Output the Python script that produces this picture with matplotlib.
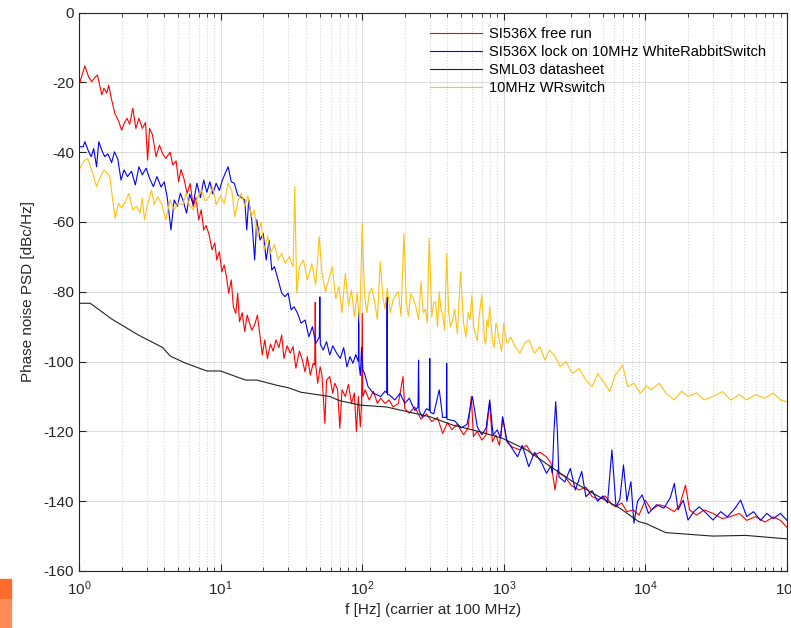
import matplotlib
matplotlib.use("Agg")
import matplotlib.pyplot as plt
from matplotlib.patches import Rectangle
from matplotlib.ticker import LogLocator, NullFormatter

plt.rcParams['font.family'] = ['Liberation Sans', 'DejaVu Sans']
plt.rcParams['mathtext.fontset'] = 'custom'
plt.rcParams['mathtext.rm'] = 'Liberation Sans'
plt.rcParams['mathtext.it'] = 'Liberation Sans'

# ---------------- data ----------------
red_f = [1.00, 1.10, 1.17, 1.23, 1.30, 1.35, 1.42, 1.45, 1.50, 1.57, 1.62, 1.70, 1.79, 1.90, 2.00, 2.10,
         2.18, 2.28, 2.40, 2.52, 2.65, 2.80, 2.95, 3.05, 3.15, 3.30, 3.50, 3.70, 3.90, 4.10, 4.40, 4.60,
         4.85, 5.05, 5.25, 5.50, 5.80, 6.10, 6.40, 6.70, 7.00, 7.30, 7.60, 7.90, 8.30, 8.70, 9.10, 9.40,
         9.80, 10.2, 10.6, 11.0, 11.4, 11.9, 12.3, 12.8, 13.2, 13.6, 14.2, 14.8, 15.4, 16.0, 16.6, 17.4,
         18.2, 19.0, 19.7, 20.5, 21.4, 22.5, 23.5, 24.6, 25.8, 27.0, 28.0, 29.5, 31.0, 32.5, 34.0, 36.0,
         37.5, 39.5, 41.0, 43.0, 45.0, 46.2, 46.6, 47.0, 48.5, 50.5, 52.0, 54.5, 56.0, 59.0, 62.0, 64.0,
         67.0, 69.5, 72.0, 76.0, 80.0, 84.0, 88.0, 91.0, 94.0, 97.0, 99.0, 100.0, 101.0, 105.0, 112.0,
         120.0, 128.0, 135.0, 145.0, 155.0, 165.0, 180.0, 194.0, 200.0, 215.0, 235.0, 260.0, 285.0, 310.0,
         340.0, 370.0, 400.0, 430.0, 470.0, 520.0, 560.0, 590.0, 610.0, 650.0, 700.0, 750.0, 795.0, 830.0,
         880.0, 930.0, 985.0, 1050, 1150, 1300, 1450, 1600, 1800, 2000, 2150, 2300, 2400, 2470, 2700,
         3000, 3400, 3800, 4200, 4700, 5200, 5800, 6200, 6800, 7400, 8200, 9000, 10000, 11000, 12500,
         14000, 16000, 17500, 19200, 20500, 23000, 26000, 30000, 35000, 40000, 46000, 52000, 60000,
         70000, 80000, 90000, 100000]
red_db = [-20.8, -15.3, -18.5, -19.8, -18.5, -17.9, -22.0, -23.6, -21.7, -23.1, -20.8, -25.0, -28.9, -31.0,
          -33.7, -31.5, -30.3, -32.0, -27.4, -33.2, -30.3, -33.2, -31.5, -42.3, -33.2, -35.0, -41.3, -38.0,
          -40.5, -41.8, -40.0, -43.7, -42.5, -48.5, -45.0, -47.5, -51.8, -49.0, -55.6, -53.0, -59.4, -56.5,
          -62.3, -61.0, -63.7, -68.0, -66.0, -70.9, -68.5, -74.3, -72.3, -75.7, -80.4, -76.6, -84.3, -86.2,
          -80.4, -88.6, -86.0, -91.4, -86.7, -89.0, -91.0, -89.5, -86.7, -92.9, -98.1, -93.8, -99.1, -95.0,
          -97.0, -93.8, -96.0, -92.4, -99.1, -95.5, -97.6, -95.7, -101.9, -97.0, -99.1, -103.0, -98.6,
          -103.9, -100.5, -101.0, -83.0, -101.0, -106.2, -101.5, -104.0, -117.7, -105.3, -104.3, -109.1,
          -106.2, -108.0, -119.1, -108.1, -110.0, -106.5, -112.0, -109.0, -120.1, -110.0, -118.7, -112.0,
          -86.2, -110.0, -108.1, -111.0, -108.5, -112.0, -110.5, -112.0, -111.0, -113.0, -112.0, -104.3,
          -113.5, -114.8, -113.0, -116.5, -115.0, -117.2, -116.0, -120.6, -117.5, -119.5, -118.0, -121.0,
          -119.0, -110.0, -121.5, -120.0, -122.5, -121.0, -111.5, -123.0, -121.0, -124.0, -116.3, -123.0,
          -124.5, -125.3, -124.0, -127.0, -126.0, -127.3, -129.0, -136.8, -131.0, -132.0, -133.0, -135.5,
          -136.8, -136.0, -138.7, -139.5, -138.5, -141.0, -141.6, -140.5, -143.0, -142.5, -144.0, -139.7,
          -142.5, -141.0, -141.6, -143.0, -141.0, -135.4, -142.5, -144.0, -142.5, -143.5, -145.0, -144.4,
          -143.5, -145.5, -144.4, -146.0, -144.5, -145.5, -147.5]

blue_f = [1.00, 1.07, 1.10, 1.16, 1.22, 1.27, 1.33, 1.38, 1.45, 1.52, 1.60, 1.70, 1.78, 1.88, 1.98, 2.08,
          2.20, 2.35, 2.50, 2.65, 2.80, 2.98, 3.15, 3.35, 3.55, 3.80, 4.00, 4.20, 4.46, 4.70, 4.95, 5.20,
          5.45, 5.75, 6.05, 6.40, 6.80, 7.20, 7.60, 8.00, 8.40, 8.80, 9.30, 9.80, 10.3, 10.8, 11.3, 11.9,
          12.5, 13.2, 14.0, 14.8, 15.3, 15.8, 16.6, 17.4, 18.0, 19.0, 20.0, 21.0, 22.0, 23.0, 24.0, 25.5,
          27.0, 28.5, 30.0, 31.5, 33.0, 35.0, 37.0, 39.5, 42.0, 44.5, 47.0, 49.8, 50.2, 50.6, 53.0, 56.0,
          59.0, 62.0, 66.0, 70.0, 74.0, 78.0, 82.0, 86.0, 90.0, 94.0, 94.5, 95.0, 97.0, 99.0, 101.0, 104.0,
          110.0, 120.0, 135.0, 145.0, 149.0, 150.0, 151.0, 155.0, 170.0, 185.0, 200.0, 215.0, 235.0, 248.0,
          250.0, 252.0, 265.0, 285.0, 298.0, 300.0, 302.0, 320.0, 350.0, 370.0, 393.0, 395.0, 397.0, 415.0,
          450.0, 500.0, 550.0, 600.0, 650.0, 700.0, 750.0, 795.0, 840.0, 900.0, 950.0, 980.0, 1050, 1150,
          1250, 1350, 1500, 1650, 1850, 2000, 2150, 2200, 2260, 2325, 2390, 2450, 2700, 2950, 3200, 3550,
          3800, 4200, 4600, 5000, 5400, 5800, 6200, 6600, 7000, 7400, 7900, 8300, 8800, 9500, 10500, 12000,
          13500, 15000, 16000, 17000, 18500, 20000, 22000, 24000, 27000, 30000, 34000, 38000, 43000, 47000,
          52000, 58000, 65000, 72000, 80000, 90000, 100000]
blue_db = [-38.4, -38.5, -37.0, -39.5, -41.3, -39.0, -44.2, -37.0, -39.5, -41.3, -40.5, -43.0, -39.9, -42.0,
           -48.0, -45.1, -47.0, -45.5, -49.4, -44.2, -46.5, -44.6, -47.5, -49.9, -47.0, -50.0, -48.5, -53.0,
           -62.3, -53.7, -55.5, -51.8, -54.0, -57.5, -52.0, -55.0, -48.9, -53.0, -48.0, -51.5, -48.5, -52.0,
           -48.9, -51.0, -48.0, -46.0, -44.2, -48.5, -48.9, -52.3, -53.0, -53.7, -62.3, -53.7, -59.4, -70.9,
           -59.4, -65.2, -63.3, -70.9, -65.2, -73.8, -72.8, -76.6, -80.4, -81.4, -80.4, -85.2, -84.3, -86.2,
           -89.0, -88.1, -92.9, -90.0, -94.8, -93.0, -81.5, -95.0, -96.7, -94.3, -98.1, -95.5, -97.6, -99.1,
           -96.0, -101.5, -98.6, -100.5, -98.0, -100.0, -86.0, -101.0, -104.0, -96.0, -102.4, -103.4,
           -107.2, -109.1, -110.0, -108.5, -109.0, -81.5, -109.5, -109.5, -111.0, -109.1, -112.0, -110.5,
           -114.0, -113.0, -99.6, -114.0, -115.8, -113.5, -114.0, -99.1, -114.5, -115.0, -108.1, -116.0,
           -116.0, -100.5, -116.5, -116.7, -117.0, -119.0, -118.0, -110.0, -118.7, -121.0, -119.0, -111.0,
           -121.0, -119.6, -122.0, -115.8, -122.5, -125.0, -127.3, -124.0, -130.1, -126.0, -129.0, -132.0,
           -130.0, -132.0, -120.0, -111.5, -120.0, -133.0, -134.5, -130.6, -136.8, -131.5, -138.7, -137.0,
           -140.0, -138.5, -140.5, -125.3, -141.6, -139.5, -129.6, -140.0, -134.4, -146.3, -140.0, -138.2,
           -143.5, -141.0, -142.0, -139.0, -134.9, -142.5, -139.7, -145.4, -143.0, -141.6, -143.5, -145.4,
           -143.0, -144.5, -142.0, -139.7, -144.4, -143.0, -145.5, -143.5, -145.0, -143.5, -145.5]

sml_f = [1, 1.2, 1.7, 2.6, 3.9, 4.4, 5.6, 8, 10, 15, 18, 25, 30, 37, 59, 69, 98, 148, 300, 437, 677, 980,
         1450, 2140, 3070, 4700, 6600, 9000, 10100, 13900, 30000, 51000, 100000]
sml_db = [-83.3, -83.3, -87.8, -92.3, -96.0, -98.4, -100.4, -102.7, -102.7, -105.3, -105.3, -106.8, -107.5,
          -108.8, -110.0, -111.2, -112.5, -113.0, -115.8, -118.2, -120.1, -122.0, -125.3, -130.1, -134.4,
          -138.7, -142.0, -145.9, -146.4, -149.0, -150.0, -149.8, -150.8]

wr_f = [1.00, 1.05, 1.10, 1.15, 1.20, 1.26, 1.33, 1.40, 1.50, 1.55, 1.65, 1.73, 1.80, 1.90, 2.00, 2.12,
        2.25, 2.40, 2.55, 2.70, 2.80, 2.90, 3.05, 3.25, 3.40, 3.60, 3.85, 4.10, 4.40, 4.70, 5.00, 5.40,
        5.70, 6.00, 6.40, 6.80, 7.30, 7.80, 8.30, 8.80, 9.30, 10.0, 10.6, 11.3, 12.0, 12.6, 13.3, 14.0,
        14.8, 15.6, 16.5, 17.3, 18.3, 19.3, 20.3, 21.5, 22.5, 24.0, 25.5, 27.0, 28.5, 30.5, 32.5, 33.4,
        34.5, 36.0, 38.5, 41.0, 44.0, 47.0, 49.7, 52.0, 55.0, 58.0, 61.5, 65.0, 68.5, 72.0, 76.0, 80.0,
        84.0, 88.0, 92.0, 96.0,
        100, 104, 108, 112, 117, 122, 128, 134, 140, 145, 150, 158, 165, 172, 180, 188, 197, 205, 212, 220,
        230, 240, 250, 260, 270, 280, 288, 297, 310, 320, 330, 340, 350, 360, 370, 382, 395, 408, 420, 435,
        450, 470, 495, 520, 540, 560, 578, 595, 612, 630, 650, 670, 700, 730, 745, 760, 778, 795, 830, 855,
        880, 905, 930, 965, 1000,
        1050, 1120, 1200, 1300, 1400, 1500, 1650, 1800, 1950, 2100, 2300, 2500, 2750, 3050, 3400, 3800,
        4200, 4600, 5100, 5600, 6100, 6900, 7500, 8300, 9200, 10200, 11000, 12500, 14000, 16000, 18000,
        20000, 23000, 26000, 30000, 35000, 40000, 46000, 52000, 60000, 70000, 80000, 90000, 100000]
wr_db = [-45.1, -43.5, -42.3, -41.8, -44.0, -46.5, -49.9, -47.5, -45.1, -45.6, -47.0, -53.7, -59.0, -54.7,
         -56.0, -54.2, -51.8, -56.6, -55.5, -57.5, -53.2, -59.4, -55.0, -50.9, -55.0, -52.8, -55.0, -59.4,
         -53.7, -56.5, -54.5, -55.2, -51.8, -55.0, -56.6, -53.5, -50.9, -54.0, -52.8, -50.0, -55.0, -52.5,
         -54.7, -48.9, -51.0, -58.5, -53.7, -51.8, -55.6, -52.5, -58.5, -56.6, -64.2, -60.0, -68.0, -64.0,
         -69.0, -66.5, -70.9, -69.0, -71.8, -70.0, -72.8, -49.9, -80.4, -72.8, -70.9, -76.6, -72.0, -78.0,
         -64.2, -74.7, -80.0, -76.6, -72.8, -82.0, -78.5, -86.0, -74.7, -84.0, -79.5, -87.1, -80.4, -89.0,
         -60.4, -81.4, -86.0, -80.4, -79.0, -82.5, -88.0, -71.4, -81.4, -85.0,
         -79.0, -86.0, -82.4, -81.0, -80.0, -87.0, -63.3, -83.3, -87.0, -80.5,
         -82.0, -84.5, -88.0, -77.1, -86.0, -85.0, -89.0, -64.7, -87.1, -83.0,
         -83.0, -90.0, -80.0, -85.0, -86.5, -91.0, -69.0, -86.0, -90.0, -88.0,
         -85.0, -92.0, -74.3, -89.0, -93.0, -86.0, -88.0, -80.9, -90.0, -91.9,
         -94.0, -87.0, -80.9, -93.8, -95.0, -88.0, -90.0, -84.3, -93.8, -96.0,
         -89.0, -91.0, -94.0, -97.0, -89.0,
         -94.8, -93.0, -95.7, -97.6, -94.8, -93.8, -97.6, -95.7, -99.6, -96.7, -98.5, -101.5, -100.0,
         -103.4, -102.0, -105.3, -107.2, -103.4, -106.0, -108.6, -104.0, -101.0, -107.2, -106.2, -109.1,
         -107.0, -108.1, -106.2, -109.1, -111.0, -108.5, -110.0, -109.0, -111.0, -110.0, -108.6, -111.0,
         -109.5, -111.0, -109.5, -110.5, -109.0, -111.0, -111.5]

series_labels = ["SI536X free run", "SI536X lock on 10MHz WhiteRabbitSwitch", "SML03 datasheet", "10MHz WRswitch"]
y_ticks = [-160, -140, -120, -100, -80, -60, -40, -20, 0]

# ---------------- figure ----------------
fig = plt.figure(figsize=(7.91, 6.28), dpi=100)
ax = fig.add_axes([79 / 791, (628 - 571) / 628, 708 / 791, (571 - 12.5) / 628])

ax.plot(red_f, red_db, color='#FF0000', lw=0.8, label=series_labels[0])
ax.plot(blue_f, blue_db, color='#0000FF', lw=0.8, label=series_labels[1])
ax.plot(sml_f, sml_db, color='#222222', lw=0.8, label=series_labels[2])
ax.plot(wr_f, wr_db, color='#FFC20E', lw=0.8, label=series_labels[3])

ax.set_xscale('log')
ax.set_xlim(1, 1e5)
ax.set_ylim(-160, 0)
ax.set_yticks(y_ticks)
ax.set_yticklabels([str(v) for v in y_ticks])
ax.xaxis.set_major_locator(LogLocator(base=10, numticks=10))
ax.xaxis.set_minor_locator(LogLocator(base=10, subs=range(2, 10), numticks=20))
ax.xaxis.set_minor_formatter(NullFormatter())

ax.grid(True, which='major', color='#DCDCDC', lw=0.8, ls='-')
ax.grid(True, which='minor', axis='x', color='#CFCFCF', lw=0.7, ls=(0, (1, 2)))
ax.set_axisbelow(True)

ax.tick_params(which='both', direction='in', top=True, right=True, labelsize=11, colors='#262626')
ax.tick_params(which='major', length=5, width=0.8)
ax.tick_params(which='minor', length=3, width=0.6)
ax.tick_params(axis='x', pad=6)
for s in ax.spines.values():
    s.set_color('#262626')
    s.set_linewidth(0.8)

ax.set_xlabel("f [Hz] (carrier at 100 MHz)", fontsize=11, color='#262626', labelpad=4)
ax.set_ylabel("Phase noise PSD [dBc/Hz]", fontsize=11, color='#262626', labelpad=6)

leg = ax.legend(loc='upper left', bbox_to_anchor=(0.487, 0.985), frameon=False, fontsize=10.5,
                handlelength=3.6, handletextpad=0.45, labelspacing=0.28, borderaxespad=0)

# orange marker square at bottom-left
fig.patches.append(Rectangle((0, 29 / 628), 11 / 791, 20 / 628, transform=fig.transFigure,
                             color='#FF6B2B', zorder=5))
fig.patches.append(Rectangle((0, 0), 11 / 791, 29 / 628, transform=fig.transFigure,
                             color='#FF8C57', zorder=5))

fig.savefig("out.png", dpi=100)
